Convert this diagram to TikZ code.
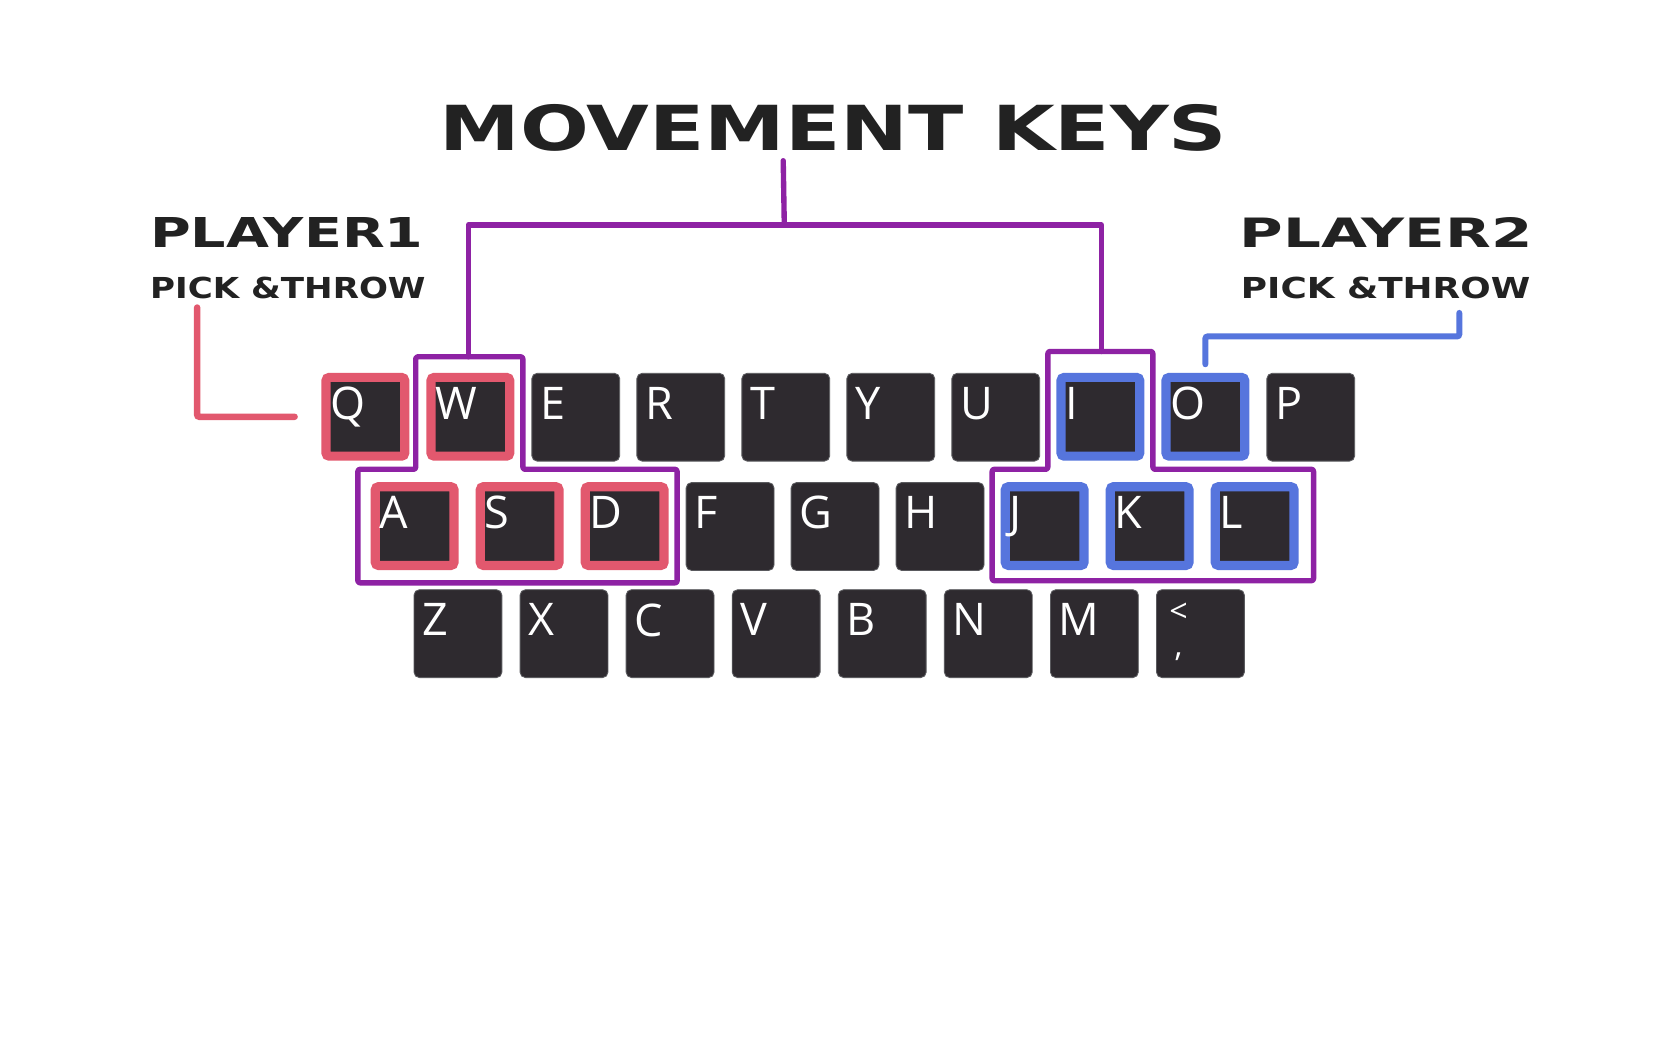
\documentclass[tikz,border=0pt]{standalone}
\usepackage{fontspec}
\setmainfont{Open Sans}
\newfontfamily\titlefont{DejaVu Sans}
\usepackage{graphicx}
\usetikzlibrary{calc}
\definecolor{keyfill}{HTML}{2E2A2F}
\definecolor{keyedge}{HTML}{5A5A5E}
\definecolor{pinkc}{HTML}{E2586E}
\definecolor{bluec}{HTML}{5675DD}
\definecolor{purplec}{HTML}{8E22A4}
\definecolor{titlec}{HTML}{222222}
\tikzset{
  keycap/.style={draw=keyedge, line width=0.8pt, fill=keyfill, rounded corners=5pt,
    minimum width=82pt, minimum height=82pt, inner sep=0pt, anchor=north west},
  pinkkey/.style={keycap, draw=pinkc, line width=8.5pt, minimum width=73.5pt, minimum height=73.5pt, rounded corners=3pt},
  bluekey/.style={keycap, draw=bluec, line width=8.5pt, minimum width=73.5pt, minimum height=73.5pt, rounded corners=3pt},
  klabel/.style={anchor=north west, text=white, font=\fontsize{42}{42}\selectfont, inner sep=0pt, xshift=8pt, yshift=-13pt},
  smalllabel/.style={anchor=center, inner sep=0pt, text=white, align=center},
  titletxt/.style={anchor=north west, inner sep=0pt, text=titlec, font=\titlefont\bfseries},
  grouppath/.style={draw=purplec, line width=5pt, rounded corners=2pt, line join=round},
  bracketpath/.style={draw=purplec, line width=5pt, line cap=round, line join=round},
}
\begin{document}
\begin{tikzpicture}[x=1pt,y=-1pt]
\useasboundingbox[fill=white] (0,0) rectangle (1568,980);

% titles
\node[titletxt] (title) at (410,97) {\resizebox{735pt}{43pt}{MOVEMENT KEYS}};
\node[titletxt] (p1) at (140,203) {\resizebox{255pt}{28pt}{PLAYER1}};
\node[titletxt] (p1sub) at (140,258) {\resizebox{257pt}{20pt}{PICK \&THROW}};
\node[titletxt] (p2) at (1157,203) {\resizebox{273pt}{28pt}{PLAYER2}};
\node[titletxt] (p2sub) at (1158,258) {\resizebox{270pt}{20pt}{PICK \&THROW}};

% row 1
\node[pinkkey, label={[klabel]north west:Q}] (kQ) at (300,348) {};
\node[pinkkey, label={[klabel]north west:W}] (kW) at (398,348) {};
\foreach \l/\x in {E/496,R/594,T/692,Y/790,U/888}
  \node[keycap, label={[klabel]north west:\l}] (k\l) at (\x,348) {};
\node[bluekey, label={[klabel]north west:I}] (kI) at (986,348) {};
\node[bluekey, label={[klabel]north west:O}] (kO) at (1084,348) {};
\node[keycap, label={[klabel]north west:P}] (kP) at (1182,348) {};

% row 2
\node[pinkkey, label={[klabel]north west:A}] (kA) at (346,450) {};
\node[pinkkey, label={[klabel]north west:S}] (kS) at (444,450) {};
\node[pinkkey, label={[klabel]north west:D}] (kD) at (542,450) {};
\foreach \l/\x in {F/640,G/738,H/836}
  \node[keycap, label={[klabel]north west:\l}] (k\l) at (\x,450) {};
\node[bluekey, label={[klabel]north west:J}] (kJ) at (934,450) {};
\node[bluekey, label={[klabel]north west:K}] (kK) at (1032,450) {};
\node[bluekey, label={[klabel]north west:L}] (kL) at (1130,450) {};

% row 3
\foreach \l/\x in {Z/386,X/485,C/584,V/683,B/782,N/881,M/980}
  \node[keycap, label={[klabel]north west:\l}] (k\l) at (\x,550) {};
\node[keycap] (kcomma) at (1079,550) {};
\node[smalllabel, font=\fontsize{30}{32}\selectfont] (ltcm) at ($(kcomma.north west)+(21pt,-40pt)$) {<\\,};

% movement groups
\draw[grouppath] (388,333) -- (488,333) -- (488,438) -- (632,438) -- (632,544) -- (334,544) -- (334,438) -- (388,438) -- cycle;
\draw[grouppath] (978,328) -- (1076,328) -- (1076,438) -- (1226,438) -- (1226,542) -- (926,542) -- (926,438) -- (978,438) -- cycle;

% movement bracket
\coordinate (stemtop) at (731,150);
\coordinate (stembot) at (732,210);
\coordinate (lefttop) at (437,333);
\coordinate (righttop) at (1028,328);
\draw[bracketpath] (stemtop) -- (stembot);
\draw[bracketpath] (lefttop) -- (437,210) -- (1028,210) -- (righttop);

% player connectors
\draw[draw=pinkc, line width=6pt, line cap=round, rounded corners=2pt] (184,287) -- (184,389) -- (275,389);
\draw[draw=bluec, line width=5.5pt, line cap=round, rounded corners=2pt] (1362,292) -- (1362,314) -- (1125,314) -- (1125,340);
\end{tikzpicture}
\end{document}
